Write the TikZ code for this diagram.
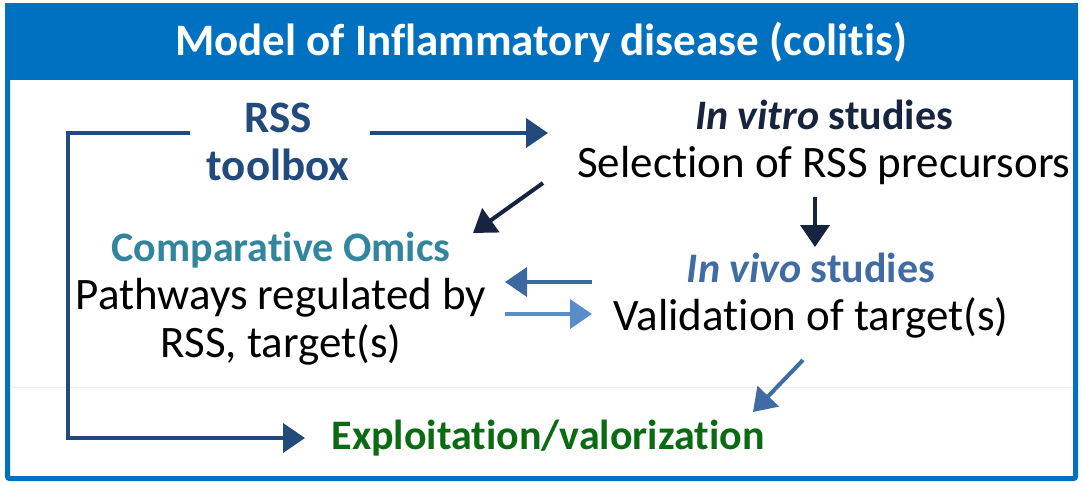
\documentclass[tikz,border=0pt]{standalone}
\usepackage{fontspec}
\setmainfont[Ligatures={NoCommon}]{Carlito}
\usetikzlibrary{arrows.meta}
\definecolor{frameblue}{HTML}{0070C0}
\definecolor{toolblue}{HTML}{234A7D}
\definecolor{vitronavy}{HTML}{16243F}
\definecolor{omicsteal}{HTML}{31859C}
\definecolor{vivoblue}{HTML}{3F6CA3}
\definecolor{valgreen}{HTML}{0A6B12}
\definecolor{backblue}{HTML}{3D68A0}
\definecolor{forthblue}{HTML}{5A8CCB}
\newcommand{\headfont}{\fontsize{42}{48}\selectfont\bfseries}
\begin{document}
\begin{tikzpicture}[x=1pt,y=-1pt,
    txt/.style={align=center,font=\fontsize{45}{48}\selectfont,inner sep=0pt},
    flow/.style={line width=4pt,-{Triangle[length=22pt,width=29pt]}}]
    \useasboundingbox (0,0) rectangle (1083,485);
    % frame and title bar
    \fill[frameblue] (5,3) rectangle (1078,80);
    \draw[frameblue,line width=5pt,rounded corners=2pt] (7.5,5.5) rectangle (1075.5,478.5);
    \draw[black!7,line width=0.8pt] (10,387) -- (1073,387);
    \node[txt,text=white,font=\fontsize{45}{48}\selectfont\bfseries] (title) at (541,42) {Model of Inflammatory disease (colitis)};
    % boxes of text
    \node[txt,text=toolblue,font=\fontsize{45}{48}\selectfont\bfseries] (tool) at (278,142) {RSS\\toolbox};
    \node[txt] (vitro) at (824,142) {\textcolor{vitronavy}{\headfont\itshape In vitro\/ \upshape studies}\\Selection of RSS precursors};
    \node[txt] (omics) at (281,299) {\textcolor{omicsteal}{\headfont Comparative Omics}\\Pathways regulated by\\RSS, target(s)};
    \node[txt] (vivo) at (811,296) {\textcolor{vivoblue}{\headfont\itshape In vivo\/ \upshape studies}\\Validation of target(s)};
    \node[txt,text=valgreen,font=\headfont] (valor) at (548,438) {Exploitation/valorization};
    % ends of the connectors
    \coordinate (toolL) at (190,133);
    \coordinate (toolR) at (370,133);
    \coordinate (vitroW) at (548,133);
    \coordinate (vitroSW) at (543,183);
    \coordinate (omicsNE) at (473,233);
    \coordinate (vitroS) at (815,197);
    \coordinate (vivoN) at (815,247);
    \coordinate (vivoW1) at (592,282);
    \coordinate (omicsE1) at (505,282);
    \coordinate (omicsE2) at (505,314);
    \coordinate (vivoW2) at (592,314);
    \coordinate (vivoS) at (803,360);
    \coordinate (valorNE) at (753,412);
    \coordinate (valorW) at (305,438);
    % connectors
    \draw[flow,toolblue] (toolR) -- (vitroW);
    \draw[flow,toolblue] (toolL) -- (68,133) -- (68,438) -- (valorW);
    \draw[flow,vitronavy] (vitroSW) -- (omicsNE);
    \draw[flow,vitronavy] (vitroS) -- (vivoN);
    \draw[flow,backblue] (vivoW1) -- (omicsE1);
    \draw[flow,forthblue] (omicsE2) -- (vivoW2);
    \draw[flow,vivoblue] (vivoS) -- (valorNE);
\end{tikzpicture}
\end{document}
